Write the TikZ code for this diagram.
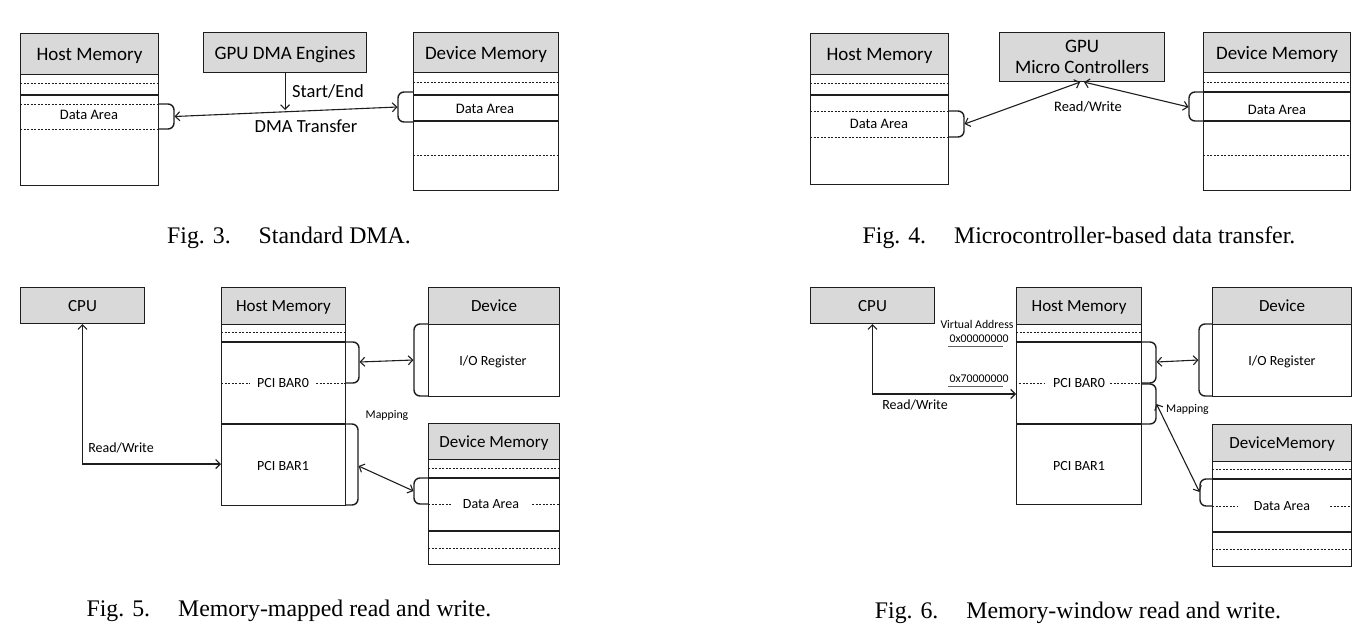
\documentclass[tikz,border=0pt]{standalone}
\usepackage{fontspec}
\setmainfont{Carlito}
\newfontfamily\capfont{Liberation Serif}
\usetikzlibrary{arrows.meta}
\definecolor{lc}{HTML}{1E1E1E}
\definecolor{hdrgray}{HTML}{D9D9D9}
\begin{document}
\begin{tikzpicture}[x=1pt,y=-1pt,
  box/.style={draw=lc, line width=1.1pt, inner sep=0pt, anchor=north west},
  hdr/.style={box, fill=hdrgray, text depth=0pt},
  tA/.style={font=\fontsize{19}{21}\selectfont},
  tB/.style={font=\fontsize{17}{19}\selectfont},
  tC/.style={font=\fontsize{18.5}{20}\selectfont},
  tS/.style={font=\fontsize{14.5}{16}\selectfont},
  tT/.style={font=\fontsize{14}{16}\selectfont},
  tM/.style={font=\fontsize{11.8}{13}\selectfont},
  lbl/.style={inner sep=0pt},
  dl/.style={draw=lc, line width=0.7pt, dash pattern=on 2pt off 1.5pt},
  sl/.style={draw=lc, line width=1.1pt},
  ul/.style={draw=lc!70, line width=0.9pt},
  brc/.style={draw=lc, line width=1.4pt, rounded corners=6pt},
  arr/.style={draw=lc, line width=1.1pt, {Straight Barb[length=4.5pt,width=9pt]}-{Straight Barb[length=4.5pt,width=9pt]}},
  ar1/.style={draw=lc, line width=1.1pt, -{Straight Barb[length=4.5pt,width=9pt]}},
  capt/.style={inner sep=0pt, font=\capfont\fontsize{23.8}{26}\selectfont}]
\useasboundingbox (0,0) rectangle (1367,642);

% ================= Fig. 3 =================
\node[hdr, tA, minimum width=138, minimum height=41] (h3h) at (20,33) {Host Memory};
\node[box, minimum width=138, minimum height=111] (h3b) at (20,74) {};
\draw[dl] (20,83) -- (158,83);
\draw[sl] (20,95) -- (158,95);
\draw[dl] (20,104) -- (158,104);
\draw[dl] (20,129) -- (158,129);
\node[lbl, tS] (h3d) at (89,115) {Data Area};
\draw[brc] (158,104) -- (174,104) -- (174,129) -- (158,129);
\coordinate (h3t) at (174.5,116.5);

\node[hdr, tA, minimum width=163, minimum height=40] (g3) at (203,32) {GPU DMA Engines};

\node[hdr, tA, minimum width=145, minimum height=40] (d3h) at (413,32) {Device Memory};
\node[box, minimum width=145, minimum height=118] (d3b) at (413,72) {};
\draw[dl] (413,82) -- (558,82);
\draw[sl] (413,95) -- (558,95);
\draw[sl] (413,121) -- (558,121);
\draw[dl] (413,155) -- (558,155);
\node[lbl, tS] (d3d) at (485,109) {Data Area};
\draw[brc] (413,92) -- (398,92) -- (398,122) -- (413,122);
\coordinate (d3t) at (397.5,107);

\draw[arr] (h3t) -- (d3t);
\coordinate (s3) at (g3.south |- 0,110);
\draw[ar1] (g3.south) -- (s3);
\node[lbl, tC, anchor=west] (l3a) at (292,91) {Start/End};
\node[lbl, tC] (l3b) at (306,126) {DMA Transfer};
\node[capt] (c3) at (289,238) {Fig. 3.\hspace{28pt}Standard DMA.};

% ================= Fig. 4 =================
\node[hdr, tA, minimum width=138, minimum height=41] (h4h) at (810,33) {Host Memory};
\node[box, minimum width=138, minimum height=110] (h4b) at (810,74) {};
\draw[dl] (810,83) -- (948,83);
\draw[sl] (810,95) -- (948,95);
\draw[dl] (810,111) -- (948,111);
\draw[dl] (810,137) -- (948,137);
\node[lbl, tS] (h4d) at (879,124) {Data Area};
\draw[brc] (948,111) -- (964,111) -- (964,137) -- (948,137);
\coordinate (h4t) at (964.5,124);

\node[hdr, tA, minimum width=165, minimum height=49, align=center, text depth=-6pt, font=\fontsize{19}{21.5}\selectfont] (g4) at (999,32) {GPU\\Micro Controllers};
\coordinate (g4a) at ([xshift=-2pt]g4.south);
\coordinate (g4b) at ([xshift=2pt]g4.south);

\node[hdr, tA, minimum width=147, minimum height=40] (d4h) at (1203,32) {Device Memory};
\node[box, minimum width=147, minimum height=118] (d4b) at (1203,72) {};
\draw[dl] (1203,82) -- (1350,82);
\draw[sl] (1203,92) -- (1350,92);
\draw[sl] (1203,121) -- (1350,121);
\draw[dl] (1203,155) -- (1350,155);
\node[lbl, tS] (d4d) at (1277,110) {Data Area};
\draw[brc] (1203,92) -- (1189,92) -- (1189,121) -- (1203,121);
\coordinate (d4t) at (1188.5,107);

\draw[arr] (h4t) -- (g4a);
\draw[arr] (g4b) -- (d4t);
\node[lbl, tS] (l4a) at (1088,107) {Read/Write};
\node[capt] (c4) at (1079,238) {Fig. 4.\hspace{28pt}Microcontroller-based data transfer.};

% ================= Fig. 5 =================
\node[hdr, tB, minimum width=124, minimum height=36] (c5) at (20,287) {CPU};

\node[hdr, tB, minimum width=124, minimum height=37] (h5h) at (221,287) {Host Memory};
\node[box, minimum width=124, minimum height=181] (h5b) at (221,324) {};
\draw[dl] (221,332) -- (345,332);
\draw[sl] (221,342) -- (345,342);
\draw[dl] (221,383) -- (250,383);
\draw[dl] (316,383) -- (345,383);
\draw[sl] (221,424) -- (345,424);
\node[lbl, tT] (h5p0) at (283,383) {PCI BAR0};
\node[lbl, tT] (h5p1) at (283,466) {PCI BAR1};
\draw[brc] (345,342) -- (359,342) -- (359,383) -- (345,383);
\draw[brc] (345,424) -- (358,424) -- (358,505) -- (345,505);
\coordinate (b50) at (359.5,362);
\coordinate (b51) at (358.5,466);

\node[hdr, tB, minimum width=131, minimum height=37] (v5h) at (428,287) {Device};
\node[box, minimum width=131, minimum height=72] (v5b) at (428,324) {};
\node[lbl, tT] (v5r) at (493,362) {I/O Register};
\draw[brc] (428,324) -- (414,324) -- (414,396) -- (428,396);
\coordinate (v5t) at (413.5,360);

\node[hdr, tB, minimum width=131, minimum height=36] (m5h) at (428,423) {Device Memory};
\node[box, minimum width=131, minimum height=105] (m5b) at (428,459) {};
\draw[dl] (428,468) -- (559,468);
\draw[sl] (428,478) -- (559,478);
\draw[dl] (428,504) -- (451,504);
\draw[dl] (532,504) -- (559,504);
\draw[sl] (428,531) -- (559,531);
\draw[dl] (428,548) -- (559,548);
\node[lbl, tT] (m5d) at (491,504) {Data Area};
\draw[brc] (428,478) -- (414,478) -- (414,504) -- (428,504);
\coordinate (m5t) at (413.5,491);

\draw[arr] (b50) -- (v5t);
\draw[arr] (b51) -- (m5t);
\node[lbl, tM] (l5m) at (387,415) {Mapping};
\coordinate (h5in) at (221,464);
\draw[arr] (c5.south) |- (h5in);
\node[lbl, tT] (l5rw) at (121,448) {Read/Write};
\node[capt] (c5c) at (289,611) {Fig. 5.\hspace{28pt}Memory-mapped read and write.};

% ================= Fig. 6 =================
\node[hdr, tB, minimum width=124, minimum height=36] (c6) at (810,287) {CPU};

\node[hdr, tB, minimum width=125, minimum height=37] (h6h) at (1016,287) {Host Memory};
\node[box, minimum width=125, minimum height=180] (h6b) at (1016,324) {};
\draw[dl] (1016,332) -- (1141,332);
\draw[sl] (1016,342) -- (1141,342);
\draw[dl] (1019,383) -- (1045,383);
\draw[dl] (1110,383) -- (1141,383);
\draw[sl] (1016,424) -- (1141,424);
\node[lbl, tT] (h6p0) at (1079,383) {PCI BAR0};
\node[lbl, tT] (h6p1) at (1079,466) {PCI BAR1};
\draw[brc] (1141,342) -- (1156,342) -- (1156,383) -- (1141,383);
\draw[brc] (1141,384) -- (1156,384) -- (1156,424) -- (1141,424);
\coordinate (b60) at (1156.5,362);
\coordinate (b61) at (1156.5,404);

\node[hdr, tB, minimum width=139, minimum height=37] (v6h) at (1212,287) {Device};
\node[box, minimum width=139, minimum height=72] (v6b) at (1212,324) {};
\node[lbl, tT] (v6r) at (1282,362) {I/O Register};
\draw[brc] (1212,324) -- (1199,324) -- (1199,396) -- (1212,396);
\coordinate (v6t) at (1198.5,360);

\node[hdr, tB, minimum width=139, minimum height=37] (m6h) at (1212,424) {DeviceMemory};
\node[box, minimum width=139, minimum height=105] (m6b) at (1212,461) {};
\draw[dl] (1212,469) -- (1351,469);
\draw[sl] (1212,479) -- (1351,479);
\draw[dl] (1212,506) -- (1237,506);
\draw[dl] (1330,506) -- (1351,506);
\draw[sl] (1212,532) -- (1351,532);
\draw[dl] (1212,549) -- (1351,549);
\node[lbl, tT] (m6d) at (1282,506) {Data Area};
\draw[brc] (1212,479) -- (1200,479) -- (1200,506) -- (1212,506);
\coordinate (m6t) at (1199.5,492);

\draw[arr] (b60) -- (v6t);
\draw[arr] (b61) -- (m6t);
\node[lbl, tM, anchor=west] (l6m) at (1166,409) {Mapping};
\coordinate (h6in) at (1016,394);
\draw[arr] (c6.south) |- (h6in);
\node[lbl, tT] (l6rw) at (915,405) {Read/Write};
\node[lbl, tM] (l6va) at (977,324) {Virtual Address};
\node[lbl, tM] (l6a0) at (979,339) {0x00000000};
\draw[ul] (948,346.5) -- (1003,346.5);
\node[lbl, tM] (l6a7) at (979,379) {0x70000000};
\draw[ul] (948,386.5) -- (1003,386.5);
\node[capt] (c6c) at (1078,613) {Fig. 6.\hspace{28pt}Memory-window read and write.};
\end{tikzpicture}
\end{document}
